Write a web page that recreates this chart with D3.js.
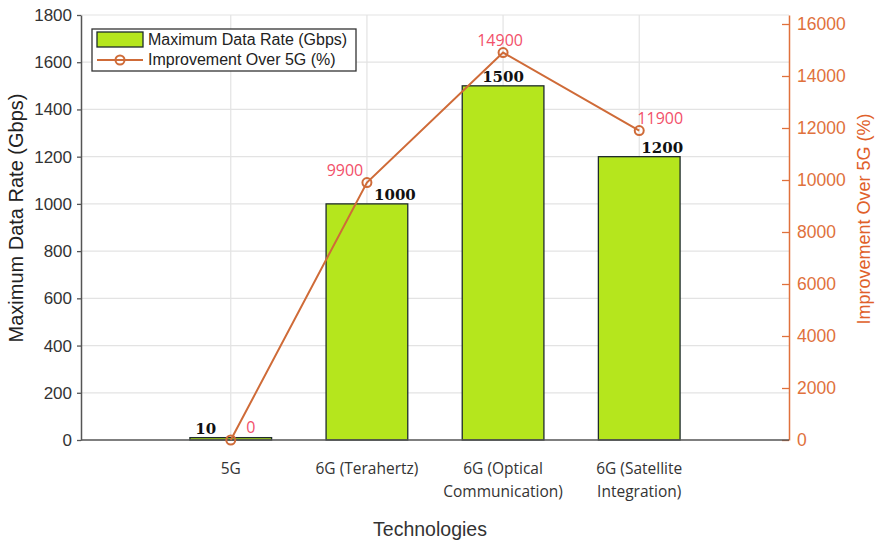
<!DOCTYPE html>
<html><head><meta charset="utf-8">
<script src="https://cdn.jsdelivr.net/npm/d3@7"></script>
<style>body{margin:0;background:#fff}</style>
</head><body>
<svg id="chart" width="876" height="541"></svg>
<script>
const categories = ["5G", "6G (Terahertz)", "6G (Optical Communication)", "6G (Satellite Integration)"];
const categoryLines = [["5G"], ["6G (Terahertz)"], ["6G (Optical", "Communication)"], ["6G (Satellite", "Integration)"]];
const dataRate = [10, 1000, 1500, 1200];
const improvement = [0, 9900, 14900, 11900];
const leftTicks = [0, 200, 400, 600, 800, 1000, 1200, 1400, 1600, 1800];
const rightTicks = [0, 2000, 4000, 6000, 8000, 10000, 12000, 14000, 16000];

const svg = d3.select("#chart");
const L = 81, R = 789, T = 15, B = 440;
const x = d3.scalePoint().domain(categories).range([L, R]).padding(1.1);
const y = d3.scaleLinear().domain([0, 1800]).range([B, T]);
const y2 = d3.scaleLinear().domain([0, 16346]).range([B, T]);
const barW = 0.6 * x.step();
const gridC = "#e3e3e3", axisC = "#555", orange = "#e0713c", lineC = "#cf6b38", pink = "#f2506a";
const fmt = d3.format("d");

// gridlines
svg.append("g").selectAll("line").data(leftTicks.slice(1)).join("line")
  .attr("x1", L).attr("x2", R).attr("y1", d => y(d)).attr("y2", d => y(d))
  .attr("stroke", gridC).attr("stroke-width", 1.2);
svg.append("g").selectAll("line").data(categories).join("line")
  .attr("x1", d => x(d)).attr("x2", d => x(d)).attr("y1", T).attr("y2", B)
  .attr("stroke", gridC).attr("stroke-width", 1.2);

// bars
svg.append("g").selectAll("rect").data(categories).join("rect")
  .attr("x", d => x(d) - barW / 2).attr("width", barW)
  .attr("y", (d, i) => y(dataRate[i])).attr("height", (d, i) => B - y(dataRate[i]))
  .attr("fill", "#b5e61d").attr("stroke", "#1e2b2b").attr("stroke-width", 1.3);

// axes
const yAxis = svg.append("g").attr("transform", `translate(${L},0)`)
  .call(d3.axisLeft(y).tickValues(leftTicks).tickFormat(fmt).tickSize(4).tickPadding(5).tickSizeOuter(0));
yAxis.select(".domain").attr("stroke", axisC).attr("stroke-width", 1.5);
yAxis.selectAll(".tick line").attr("stroke", axisC).attr("stroke-width", 1.3);
yAxis.selectAll("text").attr("fill", "#333").style("font-family", "Liberation Sans, Arial").style("font-size", "17px");

const y2Axis = svg.append("g").attr("transform", `translate(${R},0)`)
  .call(d3.axisRight(y2).tickValues(rightTicks).tickFormat(fmt).tickSize(-7).tickPadding(8).tickSizeOuter(0));
y2Axis.select(".domain").attr("stroke", orange).attr("stroke-width", 1.5);
y2Axis.selectAll(".tick line").attr("stroke", orange).attr("stroke-width", 1.3);
y2Axis.selectAll("text").attr("fill", orange).style("font-family", "Liberation Sans, Arial").style("font-size", "17.5px");

svg.append("line").attr("x1", L).attr("x2", R).attr("y1", B).attr("y2", B)
  .attr("stroke", axisC).attr("stroke-width", 1.5);

// category labels
const cat = svg.append("g");
categories.forEach((c, i) => {
  const t = cat.append("text").attr("x", x(c)).attr("y", 474).attr("text-anchor", "middle")
    .attr("fill", "#333").style("font-family", "Open Sans, Noto Sans").style("font-size", "15.5px");
  categoryLines[i].forEach((ln, j) => t.append("tspan").attr("x", x(c)).attr("dy", j === 0 ? 0 : 23).text(ln));
});

// line
const line = d3.line().x((d, i) => x(categories[i])).y(d => y2(d));
svg.append("path").datum(improvement).attr("d", line).attr("fill", "none")
  .attr("stroke", lineC).attr("stroke-width", 2);
svg.append("g").selectAll("circle").data(improvement).join("circle")
  .attr("cx", (d, i) => x(categories[i])).attr("cy", d => y2(d)).attr("r", 4.5)
  .attr("fill", "none").attr("stroke", lineC).attr("stroke-width", 2);

// bar value labels
const barDx = [-25, 28, 0, 23];
svg.append("g").selectAll("text").data(dataRate).join("text")
  .attr("x", (d, i) => x(categories[i]) + barDx[i]).attr("y", d => y(d) - 4)
  .attr("text-anchor", "middle").attr("fill", "#111")
  .style("font-family", "DejaVu Serif, serif").style("font-weight", "bold").style("font-size", "15px")
  .text(d => d);

// line value labels
const lineDx = [20, -22, -3, 21];
svg.append("g").selectAll("text").data(improvement).join("text")
  .attr("x", (d, i) => x(categories[i]) + lineDx[i]).attr("y", d => y2(d) - 7)
  .attr("text-anchor", "middle").attr("fill", pink)
  .style("font-family", "Open Sans, Noto Sans").style("font-size", "16px")
  .text(d => d);

// axis titles
svg.append("text").attr("transform", `translate(23,218) rotate(-90)`)
  .attr("text-anchor", "middle").attr("fill", "#222")
  .style("font-family", "Liberation Sans, Arial").style("font-size", "20px").text("Maximum Data Rate (Gbps)");
svg.append("text").attr("transform", `translate(870,219) rotate(-90)`)
  .attr("text-anchor", "middle").attr("fill", "#e0602a")
  .style("font-family", "Liberation Sans, Arial").style("font-size", "18px").text("Improvement Over 5G (%)");
svg.append("text").attr("x", 430).attr("y", 536).attr("text-anchor", "middle").attr("fill", "#333")
  .style("font-family", "Liberation Sans, Arial").style("font-size", "19.5px").text("Technologies");

// legend
const lg = svg.append("g");
lg.append("rect").attr("x", 92).attr("y", 29).attr("width", 264).attr("height", 42)
  .attr("fill", "#fff").attr("stroke", "#333").attr("stroke-width", 1.3);
lg.append("rect").attr("x", 97).attr("y", 32).attr("width", 46).attr("height", 15)
  .attr("fill", "#b5e61d").attr("stroke", "#1e2b2b").attr("stroke-width", 1.3);
lg.append("line").attr("x1", 97).attr("x2", 143).attr("y1", 60).attr("y2", 60)
  .attr("stroke", lineC).attr("stroke-width", 2);
lg.append("circle").attr("cx", 120).attr("cy", 60).attr("r", 4.5).attr("fill", "none")
  .attr("stroke", lineC).attr("stroke-width", 2);
lg.append("text").attr("x", 148).attr("y", 45).attr("fill", "#222")
  .style("font-family", "Liberation Sans, Arial").style("font-size", "16px").text("Maximum Data Rate (Gbps)");
lg.append("text").attr("x", 148).attr("y", 65).attr("fill", "#222")
  .style("font-family", "Liberation Sans, Arial").style("font-size", "16px").text("Improvement Over 5G (%)");
</script>
</body></html>
